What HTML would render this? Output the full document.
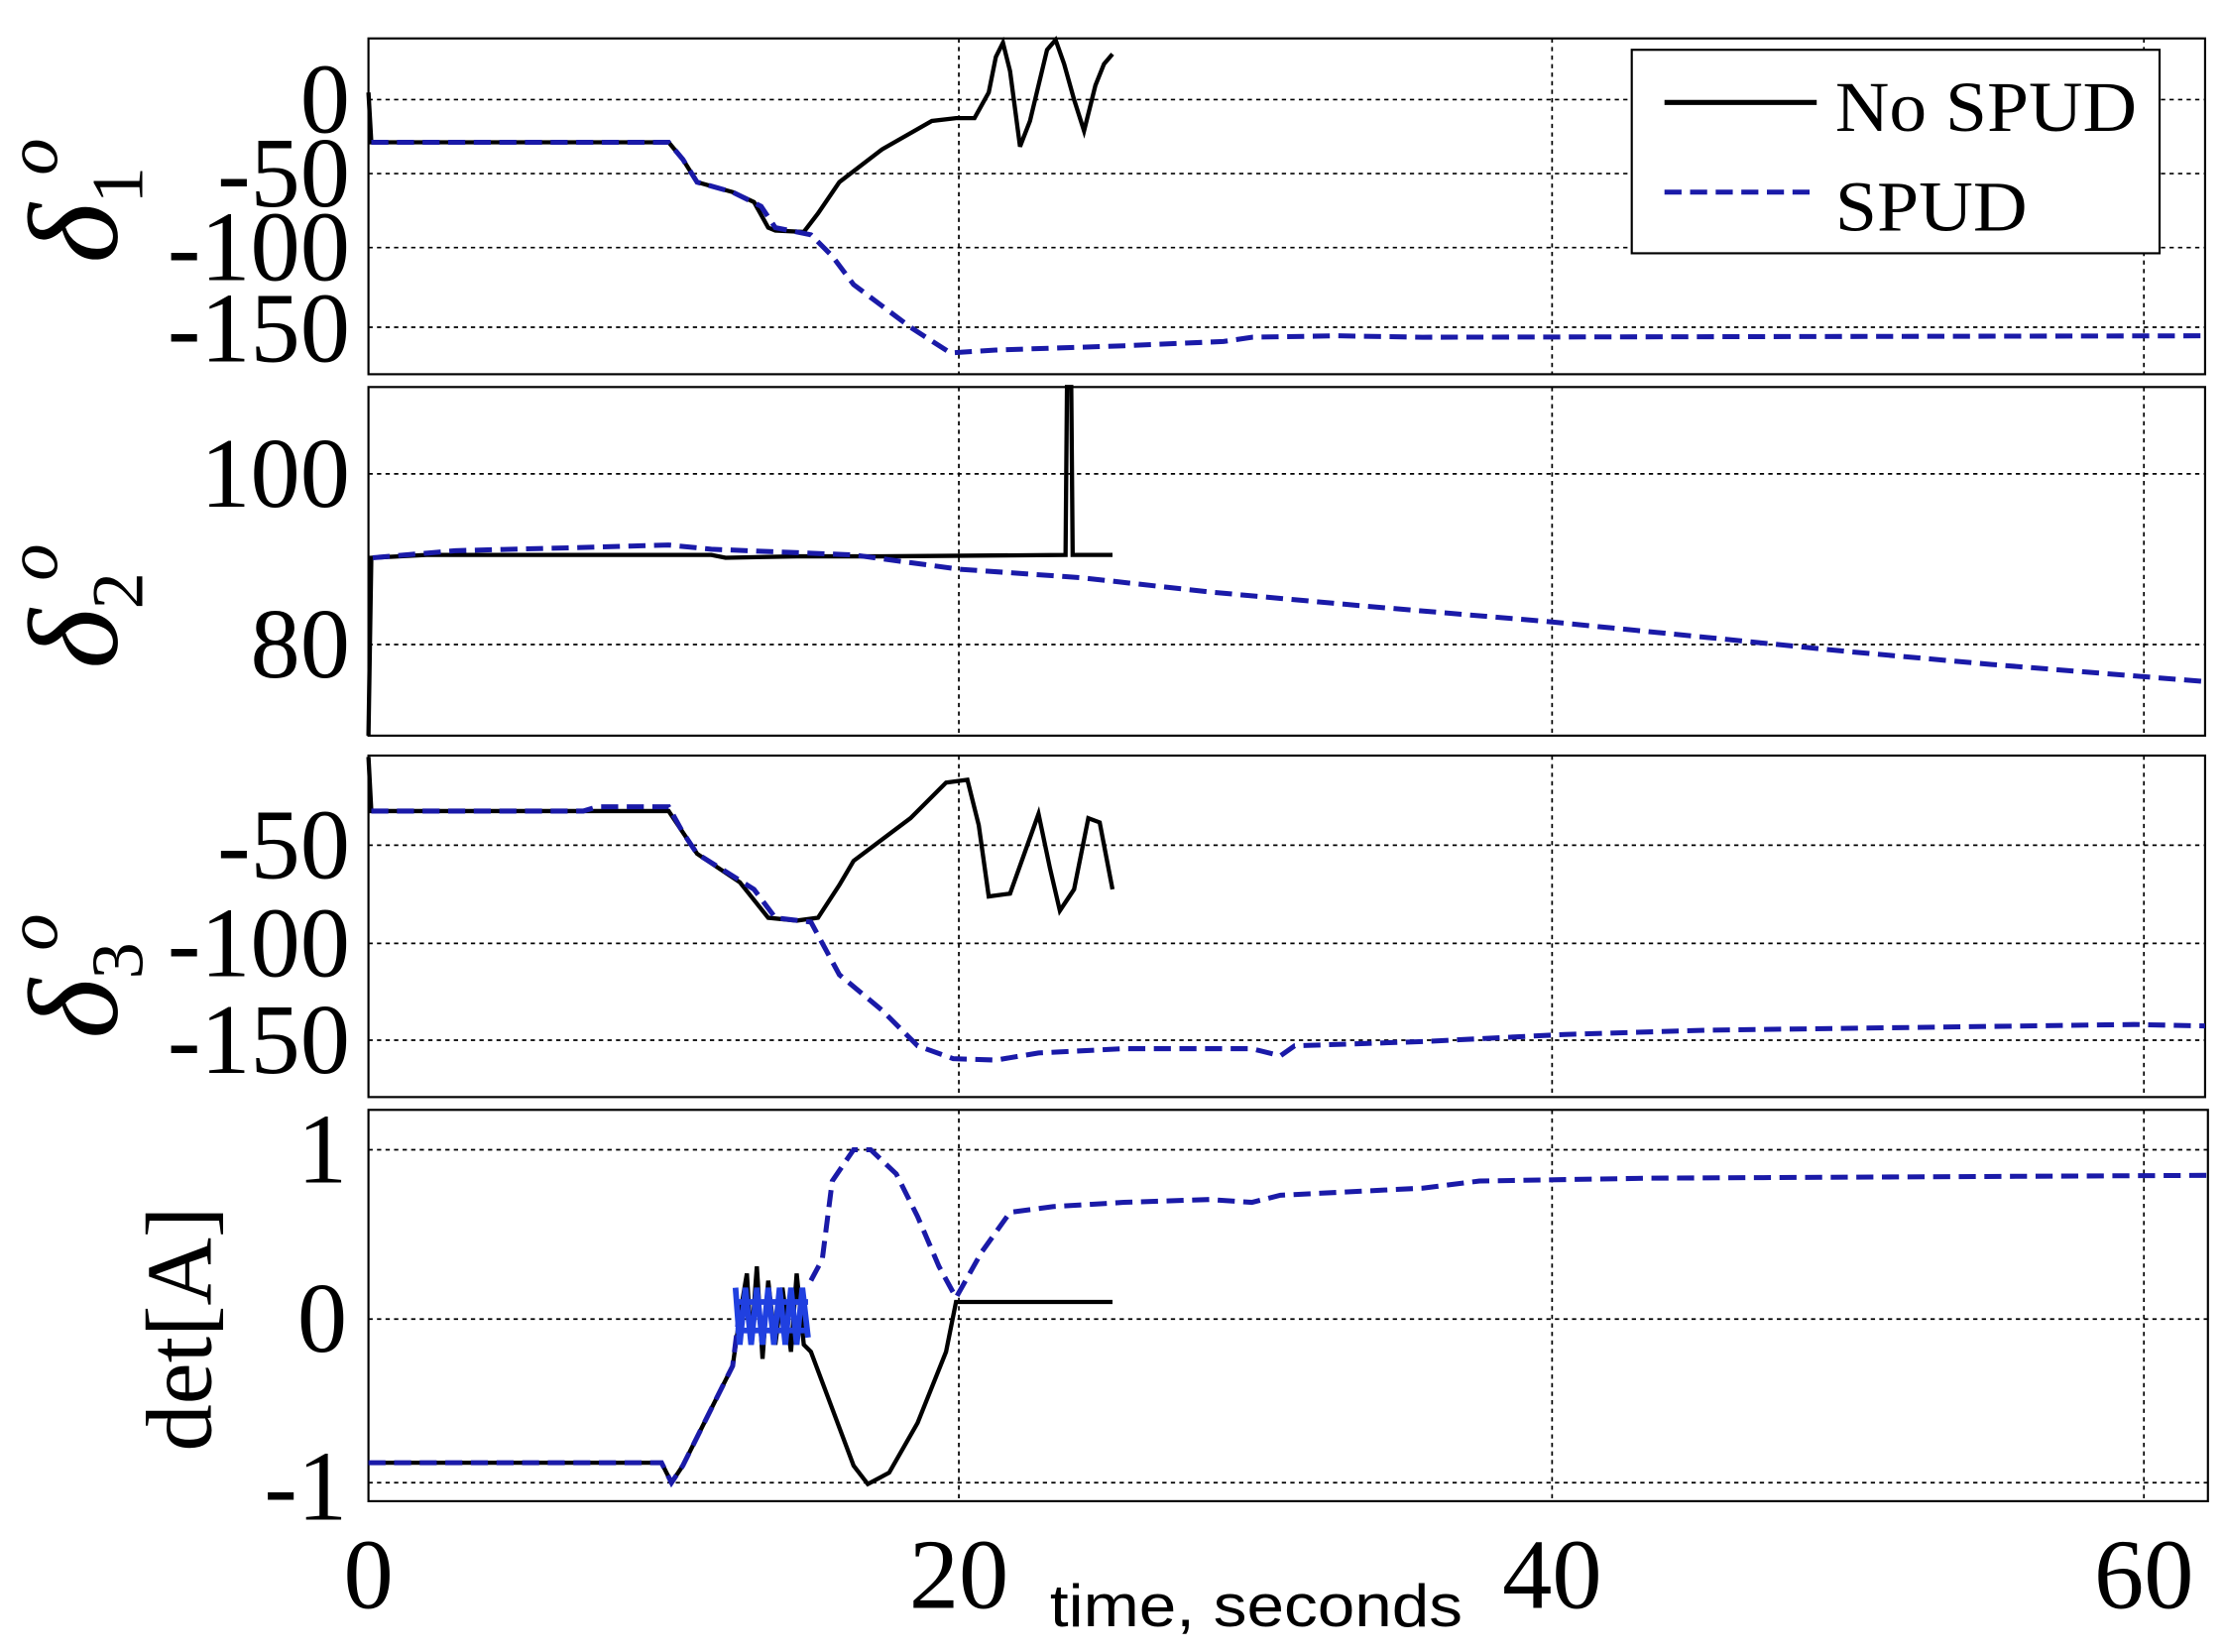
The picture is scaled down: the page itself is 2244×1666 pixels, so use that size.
<!DOCTYPE html>
<html><head><style>html,body{margin:0;padding:0;background:#fff}svg{display:block}</style></head>
<body>
<svg width="2244" height="1666" viewBox="0 0 1564 1161" preserveAspectRatio="none" xmlns="http://www.w3.org/2000/svg">
<rect width="1564" height="1161" fill="#fff"/>
<g fill="none" stroke="#000" stroke-width="1.2" stroke-dasharray="3,3">
<path d="M674 27V263M1091 27V263M1507 27V263"/>
<path d="M674 272V517M1091 272V517M1507 272V517"/>
<path d="M674 531V771M1091 531V771M1507 531V771"/>
<path d="M674 780V1055M1091 780V1055M1507 780V1055"/>
<path d="M259 70H1550M259 122H1550M259 174H1550M259 230H1550"/>
<path d="M259 333H1550M259 453H1550"/>
<path d="M259 594H1550M259 663H1550M259 731H1550"/>
<path d="M259 808H1552M259 927H1552M259 1042H1552"/>
</g>
<g fill="none" stroke="#000" stroke-width="1.5">
<rect x="259" y="27" width="1291" height="236"/>
<rect x="259" y="272" width="1291" height="245"/>
<rect x="259" y="531" width="1291" height="240"/>
<rect x="259" y="780" width="1293" height="275"/>
</g>
<polyline fill="none" stroke="#000" stroke-width="3" points="259,65 261,100 470,100 480,112 490,128 515,135 530,142 540,160 545,162 565,163 575,150 590,128 620,105 655,85 672,83 685,83 695,65 700,40 705,30 710,50 717,103 724,85 730,60 736,35 742,28 748,45 755,70 762,92 770,60 776,45 782,38"/>
<polyline fill="none" stroke="#1a1aa8" stroke-width="3.5" stroke-dasharray="12,6" points="261,100 470,100 480,112 490,128 515,135 535,145 545,160 570,165 585,180 600,200 620,215 640,230 668,248 700,246 790,243 860,240 880,237 940,236 1000,237 1550,236"/>
<polyline fill="none" stroke="#000" stroke-width="3" points="259,517 261,392 300,390 500,390 510,392 560,391 620,391 749,390 750,272 753,272 754,390 782,390"/>
<polyline fill="none" stroke="#1a1aa8" stroke-width="3.5" stroke-dasharray="12,6" points="262,392 320,387 400,385 470,383 500,386 600,390 674,400 760,406 850,416 960,426 1090,437 1200,448 1300,458 1400,467 1550,479"/>
<polyline fill="none" stroke="#000" stroke-width="3" points="259,532 261,570 470,570 480,585 490,600 520,620 540,645 560,647 575,645 590,622 600,605 640,575 665,550 680,548 688,580 695,630 710,628 720,600 730,572 738,610 745,640 755,625 765,575 773,578 782,625"/>
<polyline fill="none" stroke="#1a1aa8" stroke-width="3.5" stroke-dasharray="12,6" points="261,570 410,570 420,567 470,567 480,585 490,600 530,625 545,645 570,648 590,685 620,710 645,735 670,744 700,745 730,740 790,737 880,737 900,742 910,735 1000,732 1100,727 1200,724 1500,720 1550,721"/>
<polyline fill="none" stroke="#000" stroke-width="3" points="259,1028 465,1028 472,1042 480,1030 500,990 515,960 520,925 525,895 528,945 532,890 536,955 540,900 545,945 550,905 556,950 560,895 565,945 570,950 585,990 600,1030 610,1043 625,1035 645,1000 665,950 672,915 680,915 782,915"/>
<polyline fill="none" stroke="#1a1aa8" stroke-width="3.5" stroke-dasharray="12,6" points="259,1028 465,1028 472,1042 480,1030 500,990 515,960 520,920"/>
<g stroke="#2040e0" stroke-width="4" fill="none"><path d="M517 905L520 945L524 905L528 945L532 905L536 945L540 905L544 945L548 905L552 945L556 905L560 945L564 905L568 940"/><path d="M517 915H568M517 935H568"/></g>
<polyline fill="none" stroke="#1a1aa8" stroke-width="3.5" stroke-dasharray="12,6" points="570,900 578,885 585,830 600,808 612,808 630,825 645,855 660,890 672,912 690,880 710,852 740,848 790,845 850,843 880,845 900,840 940,838 1000,835 1040,830 1160,828 1556,826"/>
<rect x="1147" y="35" width="371" height="143" fill="#fff" stroke="#000" stroke-width="1.5"/>
<line x1="1170" y1="72" x2="1277" y2="72" stroke="#000" stroke-width="3.5"/>
<line x1="1170" y1="135" x2="1277" y2="135" stroke="#1a1aa8" stroke-width="3.5" stroke-dasharray="12,6"/>
<g font-family="Liberation Serif, serif" font-size="50" fill="#000">
<text x="1290" y="92" textLength="212" lengthAdjust="spacingAndGlyphs">No SPUD</text>
<text x="1290" y="162" textLength="135" lengthAdjust="spacingAndGlyphs">SPUD</text>
</g>
<g font-family="Liberation Serif, serif" font-size="70" fill="#000" text-anchor="end">
<text x="246" y="93">0</text><text x="246" y="145">-50</text><text x="246" y="197">-100</text><text x="246" y="254">-150</text>
<text x="246" y="356">100</text><text x="246" y="476">80</text>
<text x="246" y="617">-50</text><text x="246" y="686">-100</text><text x="246" y="754">-150</text>
<text x="244" y="831">1</text><text x="244" y="950">0</text><text x="244" y="1068">-1</text>
</g>
<g font-family="Liberation Serif, serif" font-size="70" fill="#000" text-anchor="middle">
<text x="259" y="1130">0</text><text x="674" y="1130">20</text><text x="1091" y="1130">40</text><text x="1507" y="1130">60</text>
</g>
<text x="738" y="1143" font-family="Liberation Sans, sans-serif" font-size="42" fill="#000" textLength="290" lengthAdjust="spacingAndGlyphs">time, seconds</text>
<g font-family="Liberation Serif, serif" fill="#000">
<text transform="translate(82,185) rotate(-90)" font-size="90" font-style="italic">δ<tspan font-size="52" dy="18" font-style="normal">1</tspan><tspan font-size="52" dy="-60" dx="-6">o</tspan></text>
<text transform="translate(82,470) rotate(-90)" font-size="90" font-style="italic">δ<tspan font-size="52" dy="18" font-style="normal">2</tspan><tspan font-size="52" dy="-60" dx="-6">o</tspan></text>
<text transform="translate(82,730) rotate(-90)" font-size="90" font-style="italic">δ<tspan font-size="52" dy="18" font-style="normal">3</tspan><tspan font-size="52" dy="-60" dx="-6">o</tspan></text>
<text transform="translate(148,1020) rotate(-90)" font-size="66">det[A]</text>
</g>
</svg>
</body></html>
